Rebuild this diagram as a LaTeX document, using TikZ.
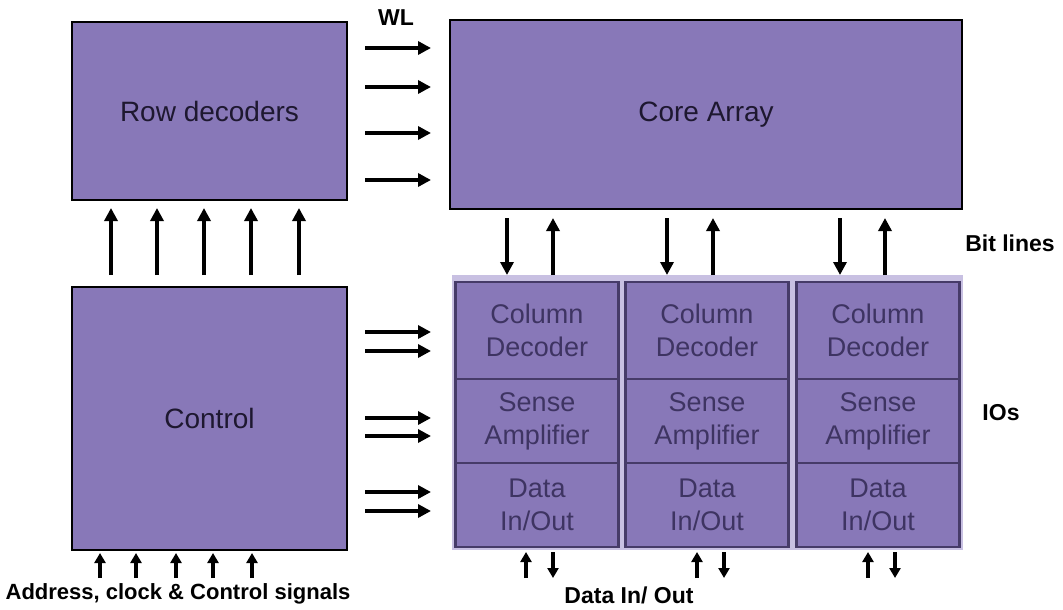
\documentclass[tikz,border=0pt]{standalone}
\usepackage{fontspec}
\setmainfont{Liberation Sans}
\usetikzlibrary{arrows.meta}
\definecolor{boxfill}{HTML}{8878B8}
\definecolor{iobg}{HTML}{C8C0E2}
\definecolor{ioline}{HTML}{463B68}
\definecolor{iotext}{HTML}{3E3462}
\definecolor{maintext}{HTML}{1E1830}
\tikzset{
 mainbox/.style={draw=black, line width=2.8pt, fill=boxfill, inner sep=0pt, text=maintext, font=\fontsize{28}{33}\selectfont},
 cell/.style={draw=ioline, line width=2.4pt, fill=boxfill, inner sep=0pt, minimum width=163pt, text=iotext, align=center, font=\fontsize{27}{33}\selectfont},
 arr/.style={line width=3.4pt, -{Triangle[length=13pt,width=13pt]}},
 sarr/.style={line width=3.4pt, -{Triangle[length=10pt,width=11pt]}},
 lbl/.style={font=\bfseries\fontsize{23}{27}\selectfont, inner sep=0pt},
}
\begin{document}
\begin{tikzpicture}[x=1pt,y=-1pt]
\useasboundingbox (0,0) rectangle (1063,610);
% main blocks
\node[mainbox, minimum width=275pt, minimum height=178pt] (row) at (209.5,111) {Row decoders};
\node[mainbox, minimum width=512pt, minimum height=189pt] (core) at (706,114.5) {Core Array};
\node[mainbox, minimum width=275pt, minimum height=263pt] (ctrl) at (209.5,418.5) {Control};
% IO area
\node[fill=iobg, inner sep=0pt, minimum width=511pt, minimum height=275pt] (io) at (707.5,412.5) {};
\foreach \i/\cx in {1/537,2/707,3/878}{
  \node[cell, minimum height=97pt] (cd\i) at (\cx,330.5) {Column\\Decoder};
  \node[cell, minimum height=84pt] (sa\i) at (\cx,421) {Sense\\Amplifier};
  \node[cell, minimum height=84pt] (dio\i) at (\cx,505) {Data\\In/Out};
}
% WL arrows
\foreach \k/\yy in {1/48,2/87,3/133,4/180}{
  \coordinate (wla\k) at (365,\yy);
  \coordinate (wlb\k) at (431,\yy);
  \draw[arr] (wla\k) -- (wlb\k);
}
% control to IO arrows
\foreach \k/\yy in {1/332,2/351,3/418,4/436,5/492,6/511}{
  \coordinate (cta\k) at (365,\yy);
  \coordinate (ctb\k) at (431,\yy);
  \draw[arr] (cta\k) -- (ctb\k);
}
% control to row decoder arrows
\foreach \k/\xx in {1/111,2/157,3/204,4/251,5/299}{
  \coordinate (rua\k) at (\xx,275);
  \coordinate (rub\k) at (\xx,208);
  \draw[arr] (rua\k) -- (rub\k);
}
% bit lines
\foreach \k/\xd/\xu in {1/507/553,2/667/713,3/840/885}{
  \coordinate (bda\k) at (\xd,218);
  \coordinate (bdb\k) at (\xd,275);
  \draw[arr] (bda\k) -- (bdb\k);
  \coordinate (bua\k) at (\xu,275);
  \coordinate (bub\k) at (\xu,218);
  \draw[arr] (bua\k) -- (bub\k);
}
% data in/out arrows
\foreach \k/\xu/\xd in {1/526/553,2/697/724,3/868/895}{
  \coordinate (dua\k) at (\xu,578);
  \coordinate (dub\k) at (\xu,552);
  \draw[sarr] (dua\k) -- (dub\k);
  \coordinate (dda\k) at (\xd,552);
  \coordinate (ddb\k) at (\xd,578);
  \draw[sarr] (dda\k) -- (ddb\k);
}
% address arrows
\foreach \k/\xx in {1/100,2/136,3/176,4/213,5/252}{
  \coordinate (ada\k) at (\xx,578);
  \coordinate (adb\k) at (\xx,553);
  \draw[sarr] (ada\k) -- (adb\k);
}
% labels
\node[lbl] (wl) at (396,18) {WL};
\node[lbl] (bl) at (1010,243) {Bit lines};
\node[lbl] (ios) at (1001,413) {IOs};
\node[lbl, font=\bfseries\fontsize{22}{26}\selectfont] (addr) at (178,594) {Address, clock \& Control signals};
\node[lbl] (dio) at (629,595) {Data In/ Out};
\end{tikzpicture}
\end{document}
